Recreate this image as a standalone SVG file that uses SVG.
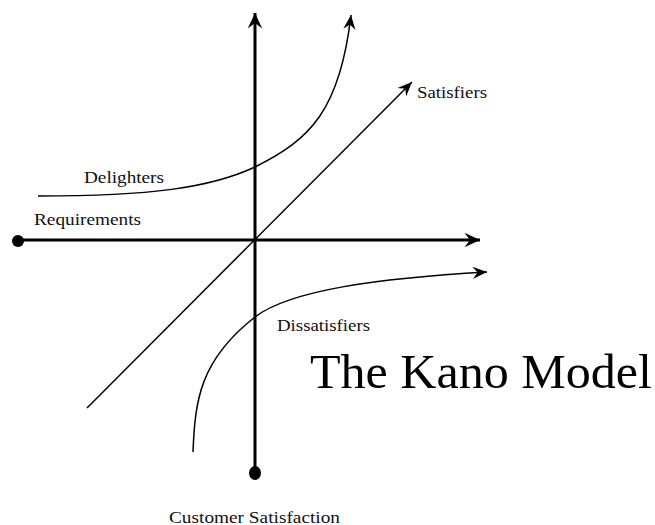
<svg xmlns="http://www.w3.org/2000/svg" width="655" height="525" viewBox="0 0 655 525">
  <style>
    .axis { stroke: #000; stroke-width: 3; fill: none; }
    .curve { stroke: #000; stroke-width: 1.5; fill: none; }
    .lbl { font-family: "Liberation Serif", "Times New Roman", serif; font-size: 16px; fill: #111; }
    .title { font-family: "Liberation Serif", "Times New Roman", serif; font-size: 48px; fill: #000; }
  </style>
  <defs>
    <marker id="bigArrow" markerUnits="userSpaceOnUse" markerWidth="20" markerHeight="20" viewBox="-16 -8 18 16" refX="0" refY="0" orient="auto">
      <path d="M0,0 L-14,-6.5 L-9,0 L-14,6.5 Z" fill="#000"/>
    </marker>
    <marker id="smallArrow" markerUnits="userSpaceOnUse" markerWidth="20" markerHeight="20" viewBox="-16 -8 18 16" refX="0" refY="0" orient="auto">
      <path d="M0,0 L-13,-5.5 L-8.5,0 L-13,5.5 Z" fill="#000"/>
    </marker>
  </defs>

  <g id="connectors">
    <path id="x-axis" class="axis" d="M18,240 L480,240" marker-end="url(#bigArrow)"/>
    <path id="y-axis" class="axis" d="M255,473 L255,13" marker-end="url(#bigArrow)"/>
    <path id="satisfiers-line" class="curve" d="M87,408 L412,82" marker-end="url(#smallArrow)"/>
    <path id="delighters-curve" class="curve" d="M38,196 C150,196 210,188 255,167 C310,140 340,110 351,15" marker-end="url(#smallArrow)"/>
    <path id="dissatisfiers-curve" class="curve" d="M193,452 C195,400 200,360 255,317 C290,290 380,278 487,272" marker-end="url(#smallArrow)"/>
  </g>

  <g id="requirements-end">
    <circle cx="18" cy="241" r="6" fill="#000"/>
  </g>
  <g id="satisfaction-end">
    <ellipse cx="255" cy="473" rx="6" ry="7" fill="#000"/>
  </g>

  <g id="label-satisfiers">
    <text class="lbl" x="417" y="98" textLength="70" lengthAdjust="spacingAndGlyphs">Satisfiers</text>
  </g>
  <g id="label-delighters">
    <text class="lbl" x="84" y="183" textLength="80" lengthAdjust="spacingAndGlyphs">Delighters</text>
  </g>
  <g id="label-requirements">
    <text class="lbl" x="34" y="225" textLength="107" lengthAdjust="spacingAndGlyphs">Requirements</text>
  </g>
  <g id="label-dissatisfiers">
    <text class="lbl" x="277" y="331" textLength="93" lengthAdjust="spacingAndGlyphs">Dissatisfiers</text>
  </g>
  <g id="label-customer-satisfaction">
    <text class="lbl" x="169" y="523" textLength="171" lengthAdjust="spacingAndGlyphs">Customer Satisfaction</text>
  </g>
  <g id="title">
    <text class="title" x="310" y="388" textLength="342" lengthAdjust="spacingAndGlyphs">The Kano Model</text>
  </g>
</svg>
